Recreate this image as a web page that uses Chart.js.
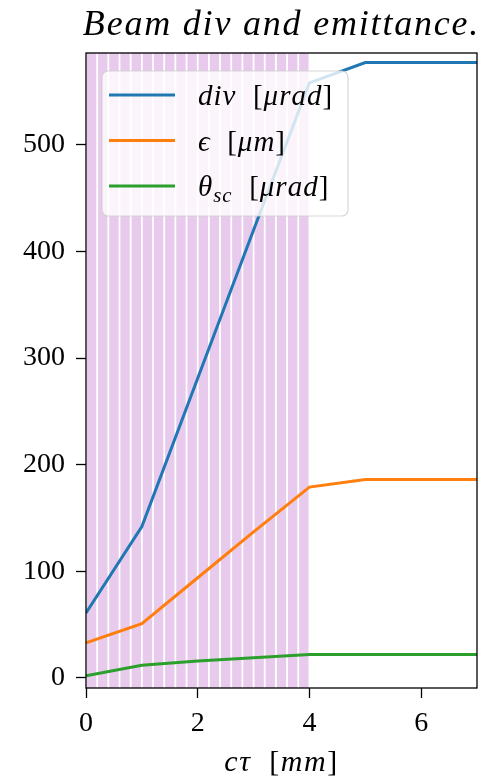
<!DOCTYPE html>
<html>
<head>
<meta charset="utf-8">
<script src="https://cdn.jsdelivr.net/npm/chart.js@4.4.0/dist/chart.umd.min.js"></script>
<style>
  body { margin: 0; background: #fff; }
</style>
</head>
<body>
<canvas id="grafico" width="487" height="781"></canvas>
<script>
// c*tau em mm
var cTau = [0, 1, 2, 3, 4, 5, 6, 7]
var divUrad = [61, 142, 281, 420, 558, 577, 577, 577]
var emitUm = [33, 51, 94, 137, 179, 186, 186, 186]
var thetaSc = [2, 12, 16, 19, 22, 22, 22, 22]

// faixas roxas (uma por amostra)
var faixasX = [0.1, 0.3, 0.5, 0.7, 0.9, 1.1, 1.3, 1.5, 1.7, 1.9,
               2.1, 2.3, 2.5, 2.7, 2.9, 3.1, 3.3, 3.5, 3.7, 3.9]

var ticksX = [0, 2, 4, 6]
var ticksY = [0, 100, 200, 300, 400, 500]

var limX = [0, 7]
var limY = [-9.4, 586]

var serif = "'Liberation Serif', 'DejaVu Serif', serif"
Chart.defaults.font.family = serif
Chart.defaults.color = '#000'

var rotulos = [
  { cor: '#1f77b4', partes: [['div', 'i'], ['  [', 'n'], ['\u03bcrad', 'i'], [']', 'n']] },
  { cor: '#ff7f0e', partes: [['\u03f5', 'i'], ['  [', 'n'], ['\u03bcm', 'i'], [']', 'n']] },
  { cor: '#2ca02c', partes: [['\u03b8', 'i'], ['sc', 'sub'], ['  [', 'n'], ['\u03bcrad', 'i'], [']', 'n']] }
]

function escreve(ctx, partes, x, y, tam, esp) {
  ctx.letterSpacing = (esp || 0) + 'px'
  partes.forEach(function (p) {
    var t = tam, dy = 0, estilo = 'normal'
    if (p[1] == 'i') estilo = 'italic'
    if (p[1] == 'sub') { estilo = 'italic'; t = tam * 0.72; dy = tam * 0.22 }
    ctx.font = estilo + ' ' + t + 'px ' + serif
    ctx.fillText(p[0], x, y + dy)
    x += ctx.measureText(p[0]).width
  })
  ctx.letterSpacing = '0px'
  return x
}

function largura(ctx, partes, tam, esp) {
  var w = 0
  ctx.letterSpacing = (esp || 0) + 'px'
  partes.forEach(function (p) {
    var t = p[1] == 'sub' ? tam * 0.72 : tam
    ctx.font = (p[1] == 'n' ? 'normal' : 'italic') + ' ' + t + 'px ' + serif
    w += ctx.measureText(p[0]).width
  })
  ctx.letterSpacing = '0px'
  return w
}

var extras = {
  id: 'extras',
  afterDatasetsDraw: function (chart) {
    var ctx = chart.ctx
    var a = chart.chartArea
    ctx.save()
    // caixa da legenda
    var lx = 102, ly = 71, lw = 246, lh = 145, r = 6
    ctx.beginPath()
    ctx.roundRect(lx, ly, lw, lh, r)
    ctx.fillStyle = 'rgba(255,255,255,0.8)'
    ctx.fill()
    ctx.strokeStyle = 'rgba(204,204,204,0.8)'
    ctx.lineWidth = 1.2
    ctx.stroke()
    ctx.textBaseline = 'alphabetic'
    rotulos.forEach(function (rot, i) {
      var yy = 95 + i * 45.5
      ctx.beginPath()
      ctx.moveTo(109, yy)
      ctx.lineTo(175, yy)
      ctx.strokeStyle = rot.cor
      ctx.lineWidth = 3
      ctx.stroke()
      ctx.fillStyle = '#000'
      escreve(ctx, rot.partes, 198, yy + 10, 29, 1)
    })
    // moldura
    ctx.strokeStyle = '#000'
    ctx.lineWidth = 1.3
    ctx.strokeRect(a.left, a.top, a.right - a.left, a.bottom - a.top)
    ctx.restore()
  },
  afterDraw: function (chart) {
    var ctx = chart.ctx
    var a = chart.chartArea
    var cx = (a.left + a.right) / 2
    ctx.save()
    ctx.fillStyle = '#000'
    ctx.textBaseline = 'alphabetic'
    var titulo = [['Beam div and emittance.', 'i']]
    escreve(ctx, titulo, cx - largura(ctx, titulo, 36, 1.8) / 2, 35, 36, 1.8)
    var rotX = [['c\u03c4', 'i'], ['  [', 'n'], ['mm', 'i'], [']', 'n']]
    escreve(ctx, rotX, cx - largura(ctx, rotX, 30, 1.5) / 2, 771, 30, 1.5)
    ctx.restore()
  }
}

var ctx = document.getElementById('grafico').getContext('2d')

var config = {
  type: 'line',
  data: {
    datasets: [
      {
        type: 'bar',
        data: faixasX.map(function (x) { return { x: x, y: limY } }),
        backgroundColor: 'rgb(232,202,236)',
        borderWidth: 0,
        barPercentage: 1,
        categoryPercentage: 0.84,
        order: 10
      },
      {
        data: cTau.map(function (x, i) { return { x: x, y: divUrad[i] } }),
        borderColor: '#1f77b4', borderWidth: 3, pointRadius: 0, order: 3
      },
      {
        data: cTau.map(function (x, i) { return { x: x, y: emitUm[i] } }),
        borderColor: '#ff7f0e', borderWidth: 3, pointRadius: 0, order: 2
      },
      {
        data: cTau.map(function (x, i) { return { x: x, y: thetaSc[i] } }),
        borderColor: '#2ca02c', borderWidth: 3, pointRadius: 0, order: 1
      }
    ]
  },
  options: {
    responsive: false,
    animation: false,
    layout: { padding: { top: 53, right: 10, left: 0, bottom: 0 } },
    plugins: { legend: { display: false }, tooltip: { enabled: false } },
    scales: {
      x: {
        type: 'linear',
        min: limX[0], max: limX[1],
        offset: false,
        afterBuildTicks: function (s) { s.ticks = ticksX.map(function (v) { return { value: v } }) },
        afterFit: function (s) { s.height = 93 },
        grid: { drawOnChartArea: false, offset: false, tickLength: 10, tickColor: '#000', tickWidth: 1.3 },
        border: { display: false },
        ticks: { font: { size: 28 }, padding: 9, maxRotation: 0 }
      },
      y: {
        min: limY[0], max: limY[1],
        afterBuildTicks: function (s) { s.ticks = ticksY.map(function (v) { return { value: v } }) },
        afterFit: function (s) { s.width = 86 },
        grid: { drawOnChartArea: false, tickLength: 10, tickColor: '#000', tickWidth: 1.3 },
        border: { display: false },
        ticks: { font: { size: 28 }, padding: 11 }
      }
    }
  },
  plugins: [extras]
}

var grafico = new Chart(ctx, config)
</script>
</body>
</html>
